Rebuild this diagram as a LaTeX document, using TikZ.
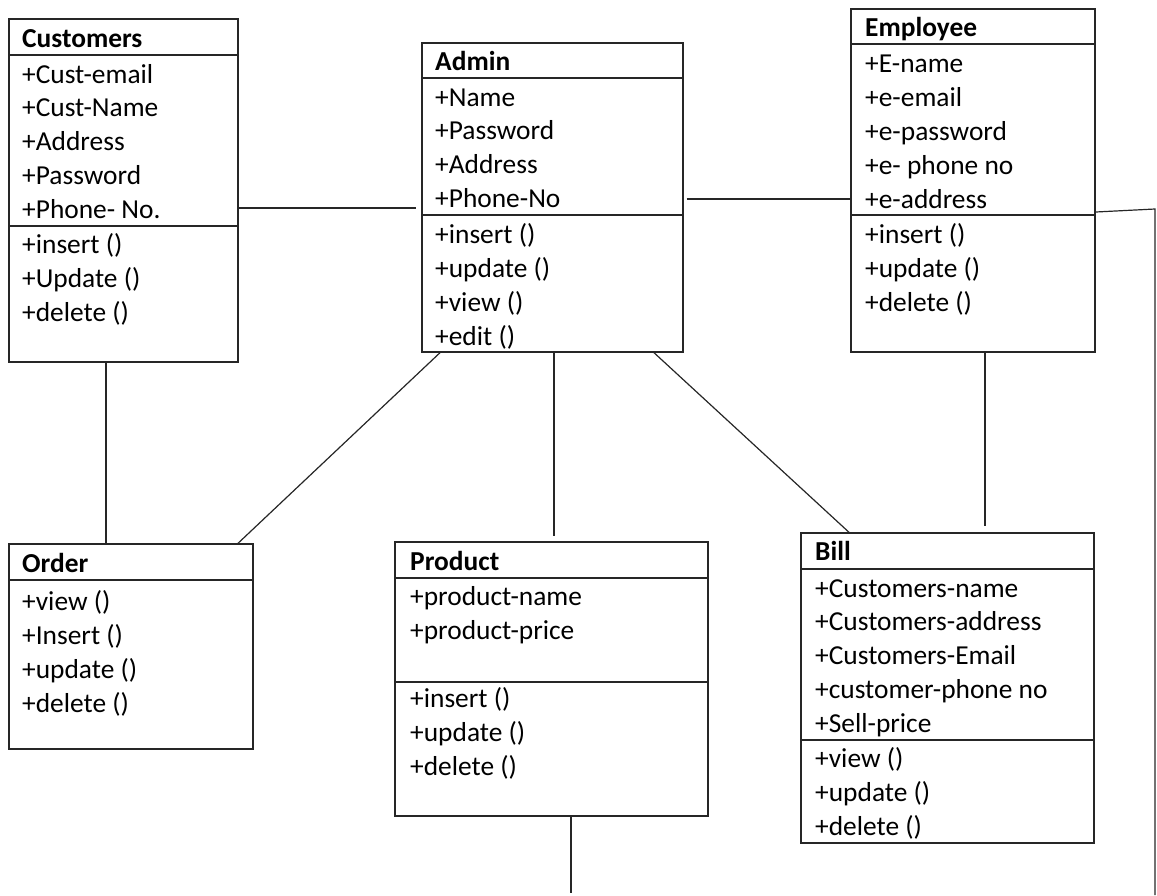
\documentclass[tikz,border=0pt]{standalone}
\usepackage{fontspec}
\setmainfont{Carlito}
\begin{document}
\begin{tikzpicture}[x=1pt,y=-1pt,
  classbox/.style={draw=black!85,line width=1.4pt,inner sep=0pt,rectangle},
  sepline/.style={draw=black!85,line width=1.3pt},
  link/.style={draw=black!85,line width=1.2pt},
  attr/.style={anchor=base west,inner sep=0pt,font=\fontsize{27.4}{34}\selectfont},
  title/.style={attr,font=\fontsize{27.4}{34}\selectfont\bfseries}]
\useasboundingbox (0,0) rectangle (1157,895);

% class frames
\node[classbox,minimum width=229pt,minimum height=343pt] (cust)  at (123.5,190.5) {};
\node[classbox,minimum width=261pt,minimum height=309pt] (admin) at (552.5,197.5) {};
\node[classbox,minimum width=244pt,minimum height=343pt] (emp)   at (973,180.5) {};
\node[classbox,minimum width=244pt,minimum height=205pt] (order) at (131,646.5) {};
\node[classbox,minimum width=313pt,minimum height=274pt] (prod)  at (551.5,679) {};
\node[classbox,minimum width=293pt,minimum height=310pt] (bill)  at (947.5,688) {};

% compartment separators
\draw[sepline] (cust.west |- 0,55) -- (cust.east |- 0,55);
\draw[sepline] (cust.west |- 0,226) -- (cust.east |- 0,226);
\draw[sepline] (admin.west |- 0,78) -- (admin.east |- 0,78);
\draw[sepline] (admin.west |- 0,215) -- (admin.east |- 0,215);
\draw[sepline] (emp.west |- 0,44) -- (emp.east |- 0,44);
\draw[sepline] (emp.west |- 0,215) -- (emp.east |- 0,215);
\draw[sepline] (order.west |- 0,580) -- (order.east |- 0,580);
\draw[sepline] (prod.west |- 0,578) -- (prod.east |- 0,578);
\draw[sepline] (prod.west |- 0,682) -- (prod.east |- 0,682);
\draw[sepline] (bill.west |- 0,569) -- (bill.east |- 0,569);
\draw[sepline] (bill.west |- 0,740) -- (bill.east |- 0,740);

% Customers
\node[title] (cust-t) at (22,47) {Customers};
\foreach \t [count=\i] in {+Cust-email,+Cust-Name,+Address,+Password,+Phone- No.}
  \node[attr] (cust-a\i) at (22,{83+33.8*(\i-1)}) {\t};
\foreach \t [count=\i] in {+insert (),+Update (),+delete ()}
  \node[attr] (cust-m\i) at (22,{253+34*(\i-1)}) {\t};

% Admin
\node[title] (admin-t) at (435,70) {Admin};
\foreach \t [count=\i] in {+Name,+Password,+Address,+Phone-No}
  \node[attr] (admin-a\i) at (435,{106+33.8*(\i-1)}) {\t};
\foreach \t [count=\i] in {+insert (),+update (),+view (),+edit ()}
  \node[attr] (admin-m\i) at (435,{243+34*(\i-1)}) {\t};

% Employee
\node[title] (emp-t) at (865,36) {Employee};
\foreach \t [count=\i] in {+E-name,+e-email,+e-password,+e- phone no,+e-address}
  \node[attr] (emp-a\i) at (865,{72+34*(\i-1)}) {\t};
\foreach \t [count=\i] in {+insert (),+update (),+delete ()}
  \node[attr] (emp-m\i) at (865,{243+34*(\i-1)}) {\t};

% Order
\node[title] (order-t) at (22,572) {Order};
\foreach \t [count=\i] in {+view (),+Insert (),+update (),+delete ()}
  \node[attr] (order-m\i) at (22,{610+34*(\i-1)}) {\t};

% Product
\node[title] (prod-t) at (410,570) {Product};
\foreach \t [count=\i] in {+product-name,+product-price}
  \node[attr] (prod-a\i) at (410,{605+34*(\i-1)}) {\t};
\foreach \t [count=\i] in {+insert (),+update (),+delete ()}
  \node[attr] (prod-m\i) at (410,{707+34*(\i-1)}) {\t};

% Bill
\node[title] (bill-t) at (815,560) {Bill};
\foreach \t [count=\i] in {+Customers-name,+Customers-address,+Customers-Email,+customer-phone no,+Sell-price}
  \node[attr] (bill-a\i) at (815,{597+33.8*(\i-1)}) {\t};
\foreach \t [count=\i] in {+view (),+update (),+delete ()}
  \node[attr] (bill-m\i) at (815,{767+34*(\i-1)}) {\t};

% associations
\coordinate (empturn) at (1155,209);
\coordinate (empend)  at (1155,895);
\coordinate (prodend) at (571,893);

\draw[link,shorten >=5pt] (cust.east |- 0,208) -- (admin.west |- 0,208);
\draw[link,shorten <=3pt] (admin.east |- 0,199) -- (emp.west |- 0,199);
\draw[link] (emp.east |- 0,212) -- (empturn) -- (empend);
\draw[link] (cust.south -| 106,0) -- (order.north -| 106,0);
\draw[link] (admin.south -| 440,0) -- (order.north -| 238,0);
\draw[link,shorten >=5pt] (admin.south -| 554,0) -- (prod.north -| 554,0);
\draw[link] (admin.south -| 654,0) -- (bill.north -| 849,0);
\draw[link,shorten >=6pt] (emp.south -| 985,0) -- (bill.north -| 985,0);
\draw[link] (prod.south -| 571,0) -- (prodend);
\end{tikzpicture}
\end{document}
